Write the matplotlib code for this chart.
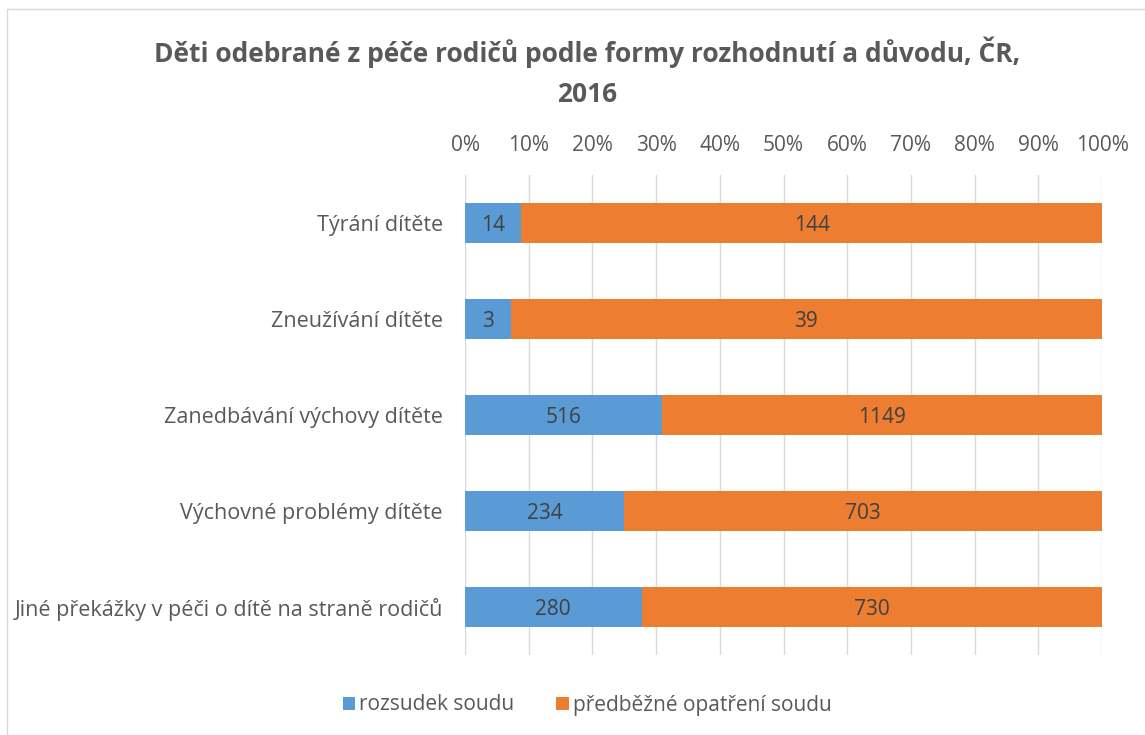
import matplotlib.pyplot as plt
import numpy as np
from matplotlib.patches import Rectangle

categories = ['Týrání dítěte', 'Zneužívání dítěte', 'Zanedbávání výchovy dítěte',
              'Výchovné problémy dítěte', 'Jiné překážky v péči o dítě na straně rodičů']
rozsudek = [14, 3, 516, 234, 280]
predbezne = [144, 39, 1149, 703, 730]
series_names = ['rozsudek soudu', 'předběžné opatření soudu']
title = 'Děti odebrané z péče rodičů podle formy rozhodnutí a důvodu, ČR,\n2016'

blue = '#5B9BD5'
orange = '#ED7D31'
txt = '#595959'

plt.rcParams['font.family'] = ['Open Sans', 'DejaVu Sans']

fig = plt.figure(figsize=(11.45, 7.35), dpi=100)
ax = fig.add_axes([465/1145, 1-655/735, 637/1145, 480/735])

r = np.array(rozsudek, float)
p = np.array(predbezne, float)
tot = r + p
rp = r / tot
pp = p / tot
y = np.arange(len(categories))

b1 = ax.barh(y, rp, height=0.42, color=blue, label=series_names[0], zorder=3)
b2 = ax.barh(y, pp, left=rp, height=0.42, color=orange, label=series_names[1], zorder=3)
for i in range(len(categories)):
    ax.text(rp[i]/2, y[i] + 0.03, str(rozsudek[i]), ha='center', va='center', fontsize=15, color='#404040', zorder=4)
    ax.text(rp[i] + pp[i]/2, y[i] + 0.03, str(predbezne[i]), ha='center', va='center', fontsize=15, color='#404040', zorder=4)

ax.set_xlim(0, 1)
ax.set_ylim(4.5, -0.5)
ax.set_yticks(y)
ax.set_yticklabels(categories, fontsize=15.5, color=txt)
ax.set_xticks(np.arange(0, 1.01, 0.1))
ax.set_xticklabels(['%d%%' % v for v in range(0, 101, 10)], fontsize=15, color=txt)
ax.xaxis.tick_top()
ax.tick_params(axis='x', length=0, pad=14)
ax.tick_params(axis='y', length=0, pad=16)
ax.xaxis.grid(True, color='#D9D9D9', linewidth=1, zorder=0)
for s in ax.spines.values():
    s.set_visible(False)

fig.text(587/1145, 1-72/735, title, ha='center', va='center', fontsize=19, fontweight='bold',
         color=txt, linespacing=1.6)

fig.legend(handles=[b1, b2], loc='center', bbox_to_anchor=(587/1145, 1-705/735), ncol=2,
           frameon=False, fontsize=15, labelcolor=txt, handlelength=0.6, handleheight=0.6,
           handletextpad=0.2, columnspacing=2.0)

fig.patches.append(Rectangle((7/1145, 0), 1.0, 1-9/735, transform=fig.transFigure,
                             fill=False, edgecolor='#D9D9D9', linewidth=1))

fig.savefig('out.png', dpi=100)
